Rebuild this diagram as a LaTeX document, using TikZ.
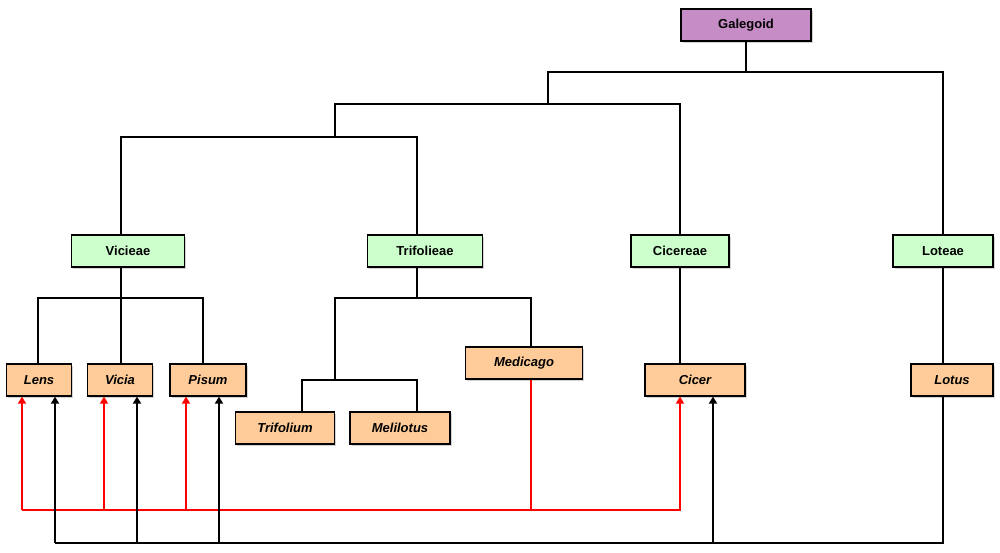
\documentclass[tikz,border=0pt]{standalone}
\usepackage{fontspec}
\setmainfont{Liberation Sans}
\usetikzlibrary{arrows.meta,shadows}
\begin{document}
\begin{tikzpicture}[x=1pt,y=-1pt,
 bx/.style={draw,line width=1.2pt,minimum height=32pt,font=\bfseries\fontsize{13}{15}\selectfont,inner sep=0pt,drop shadow={shadow xshift=1.5pt,shadow yshift=-1.5pt,opacity=0.35}},
 gen/.style={bx,fill=orange!40!white,font=\bfseries\itshape\fontsize{13}{15}\selectfont},
 tr/.style={bx,fill=green!20!white},
 tl/.style={line width=1.2pt},
 rl/.style={draw=red,line width=2pt},
 bl/.style={draw=black,line width=2pt},
 ar/.style={-{Triangle[length=7pt,width=8pt]}}]
\useasboundingbox (0,0) rectangle (1000,552);
\node[bx,fill=violet!45!white,minimum width=130pt] (gal) at (746,25) {Galegoid};
\node[tr,minimum width=113pt] (vic) at (128,251) {Vicieae};
\node[tr,minimum width=115pt] (tri) at (425,251) {Trifolieae};
\node[tr,minimum width=98pt] (cic) at (680,251) {Cicereae};
\node[tr,minimum width=100pt] (lot) at (943,251) {Loteae};
\node[gen,minimum width=65pt] (lens) at (39,380) {Lens};
\node[gen,minimum width=65pt] (vicia) at (120,380) {Vicia};
\node[gen,minimum width=76pt] (pisum) at (208,380) {Pisum};
\node[gen,minimum width=99pt] (trif) at (285,428) {Trifolium};
\node[gen,minimum width=100pt] (meli) at (400,428) {Melilotus};
\node[gen,minimum width=117pt] (med) at (524,363) {Medicago};
\node[gen,minimum width=100pt] (cicer) at (695,380) {Cicer};
\node[gen,minimum width=82pt] (lotus) at (952,380) {Lotus};
% tree
\draw[tl] (gal.south) -- (746,72);
\draw[tl] (548,104) -- (548,72) -- (943,72) -- (943,235) coordinate (lt) -- (lot.north);
\draw[tl] (335,137) -- (335,104) -- (680,104) -- (cic.north-|680,0);
\draw[tl] (121,235) -- (121,137) -- (417,137) -- (417,235);
\draw[tl] (vic.south-|121,0) -- (121,298);
\draw[tl] (38,364) -- (38,298) -- (203,298) -- (203,364);
\draw[tl] (121,298) -- (121,364);
\draw[tl] (tri.south-|417,0) -- (417,298);
\draw[tl] (335,380) -- (335,298) -- (531,298) -- (531,347);
\draw[tl] (302,412) -- (302,380) -- (417,380) -- (417,412);
\draw[tl] (cic.south-|680,0) -- (680,364);
\draw[tl] (lot.south) -- (943,364);
% red
\coordinate (r0) at (531,510);
\draw[rl] (med.south-|531,0) -- (r0) -- (22,510);
\draw[rl,ar] (22,510) -- (lens.south-|22,0);
\draw[rl,ar] (104,510) -- (vicia.south-|104,0);
\draw[rl,ar] (186,510) -- (pisum.south-|186,0);
\draw[rl,ar] (r0) -- (680,510) -- (cicer.south-|680,0);
% black
\draw[bl] (lotus.south-|943,0) -- (943,543) -- (55,543);
\draw[bl,ar] (55,543) -- (lens.south-|55,0);
\draw[bl,ar] (137,543) -- (vicia.south-|137,0);
\draw[bl,ar] (219,543) -- (pisum.south-|219,0);
\draw[bl,ar] (713,543) -- (cicer.south-|713,0);
\end{tikzpicture}
\end{document}
